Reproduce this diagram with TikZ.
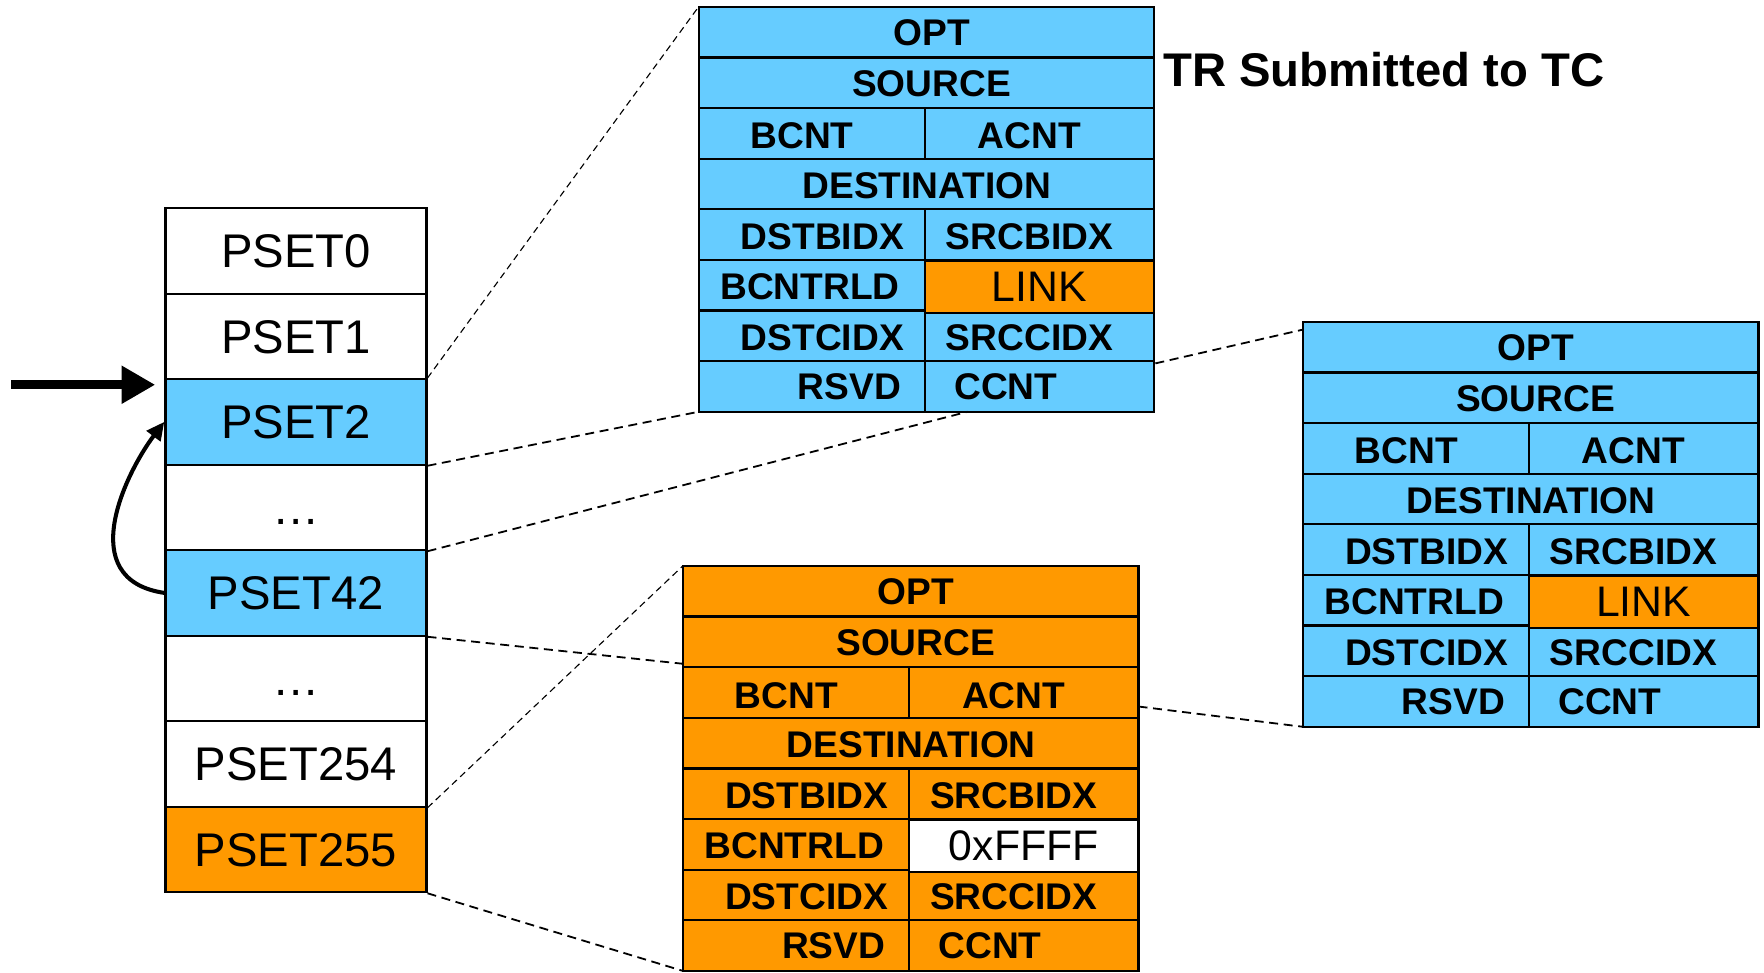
\documentclass[tikz,border=0pt]{standalone}
\usepackage{fontspec}
\setmainfont{Liberation Sans}
\usetikzlibrary{arrows.meta}
\definecolor{cblue}{HTML}{66CCFF}
\definecolor{corange}{HTML}{FF9900}
\tikzset{
 tbl/.style={line width=1pt, draw=black},
 bt/.style={font=\fontsize{16.5}{20}\bfseries\selectfont, inner sep=0pt},
 rt/.style={font=\fontsize{19}{23}\selectfont, inner sep=0pt},
 stk/.style={draw=black, line width=1pt, minimum width=116pt, minimum height=38pt, inner sep=0pt, font=\fontsize{21}{25}\selectfont, text height=15pt, text depth=0pt},
 zoomline/.style={draw=black, dash pattern=on 4pt off 2.5pt, line width=0.8pt},
 zoomthin/.style={draw=black, dash pattern=on 3pt off 2pt, line width=0.5pt},
}
\newcommand\regtable[6]{%
\begin{scope}[shift={(#2,#3)}]
 \fill[#4] (0,0) rectangle (405,360);
 \foreach \yy in {45,90,135,180,225,270,315} {\draw[tbl] (0,\yy) -- (405,\yy);}
 \draw[tbl] (201,90) -- (201,135);
 \draw[tbl] (201,180) -- (201,360);
 \draw[tbl, fill=#5] (201,226) rectangle (405,272);
 \draw[tbl] (0,0) rectangle (405,360);
 \coordinate (#1-nw) at (0,0);
 \coordinate (#1-sw) at (0,360);
 \node[bt] (#1-opt) at (207,23) {OPT};
 \node[bt] (#1-src) at (207,68) {SOURCE};
 \node[bt] (#1-bcnt) at (92,115) {BCNT};
 \node[bt] (#1-acnt) at (294,115) {ACNT};
 \node[bt] (#1-dst) at (203,159) {DESTINATION};
 \node[bt] (#1-dstb) at (110,204) {DSTBIDX};
 \node[bt] (#1-srcb) at (294,204) {SRCBIDX};
 \node[bt] (#1-rld) at (99,249) {BCNTRLD};
 \node[rt] (#1-link) at (303,249) {#6};
 \node[bt] (#1-dstc) at (110,294) {DSTCIDX};
 \node[bt] (#1-srcc) at (294,294) {SRCCIDX};
 \node[bt] (#1-rsvd) at (134,338) {RSVD};
 \node[bt] (#1-ccnt) at (273,338) {CCNT};
\end{scope}}
\begin{document}
\begin{tikzpicture}[x=0.5pt, y=-0.5pt]
\useasboundingbox[fill=white] (0,0) rectangle (1568,864);

% stack of PaRAM sets
\node[stk, fill=white] (p0) at (263,223) {PSET0};
\node[stk, fill=white] (p1) at (263,299) {PSET1};
\node[stk, fill=cblue] (p2) at (263,375) {PSET2};
\node[stk, fill=white] (d1) at (263,451) {\dots};
\node[stk, fill=cblue] (p42) at (263,527) {PSET42};
\node[stk, fill=white] (d2) at (263,603) {\dots};
\node[stk, fill=white] (p254) at (263,679) {PSET254};
\node[stk, fill=corange] (p255) at (263,755) {PSET255};

% tables
\regtable{top}{621}{6}{cblue}{corange}{LINK}
\regtable{right}{1158}{286}{cblue}{corange}{LINK}
\regtable{org}{607}{503}{corange}{white}{0xFFFF}

% coordinates on table edges
\coordinate (tb) at (860,366);
\coordinate (tr) at (1027,323);
\coordinate (rtl) at (1158,293);
\coordinate (ol) at (607,590);
\coordinate (orr) at (1012,628);
\coordinate (rbl) at (1158,646);

% dashed zoom lines
\draw[zoomthin] (p2.north east) -- (top-nw);
\draw[zoomline] (p2.south east) -- (top-sw);
\draw[zoomline] (d1.south east) -- (tb);
\draw[zoomline] (tr) -- (rtl);
\draw[zoomline] (p42.south east) -- (ol);
\draw[zoomthin] (p254.south east) -- (org-nw);
\draw[zoomline] (p255.south east) -- (org-sw);
\draw[zoomline] (orr) -- (rbl);

% arrows
\coordinate (atail) at (10,342);
\coordinate (atip) at (138,342);
\draw[line width=4pt, -{Triangle[length=15pt,width=16pt]}] (atail) -- (atip);
\draw[line width=1.8pt, -{Triangle[length=8pt,width=7.5pt]}] (p42.west) .. controls (65,515) and (112,420) .. (p2.west);

% title
\node[font=\fontsize{21}{25}\bfseries\selectfont, inner sep=0pt] (title) at (1230,62) {TR Submitted to TC};
\end{tikzpicture}
\end{document}
